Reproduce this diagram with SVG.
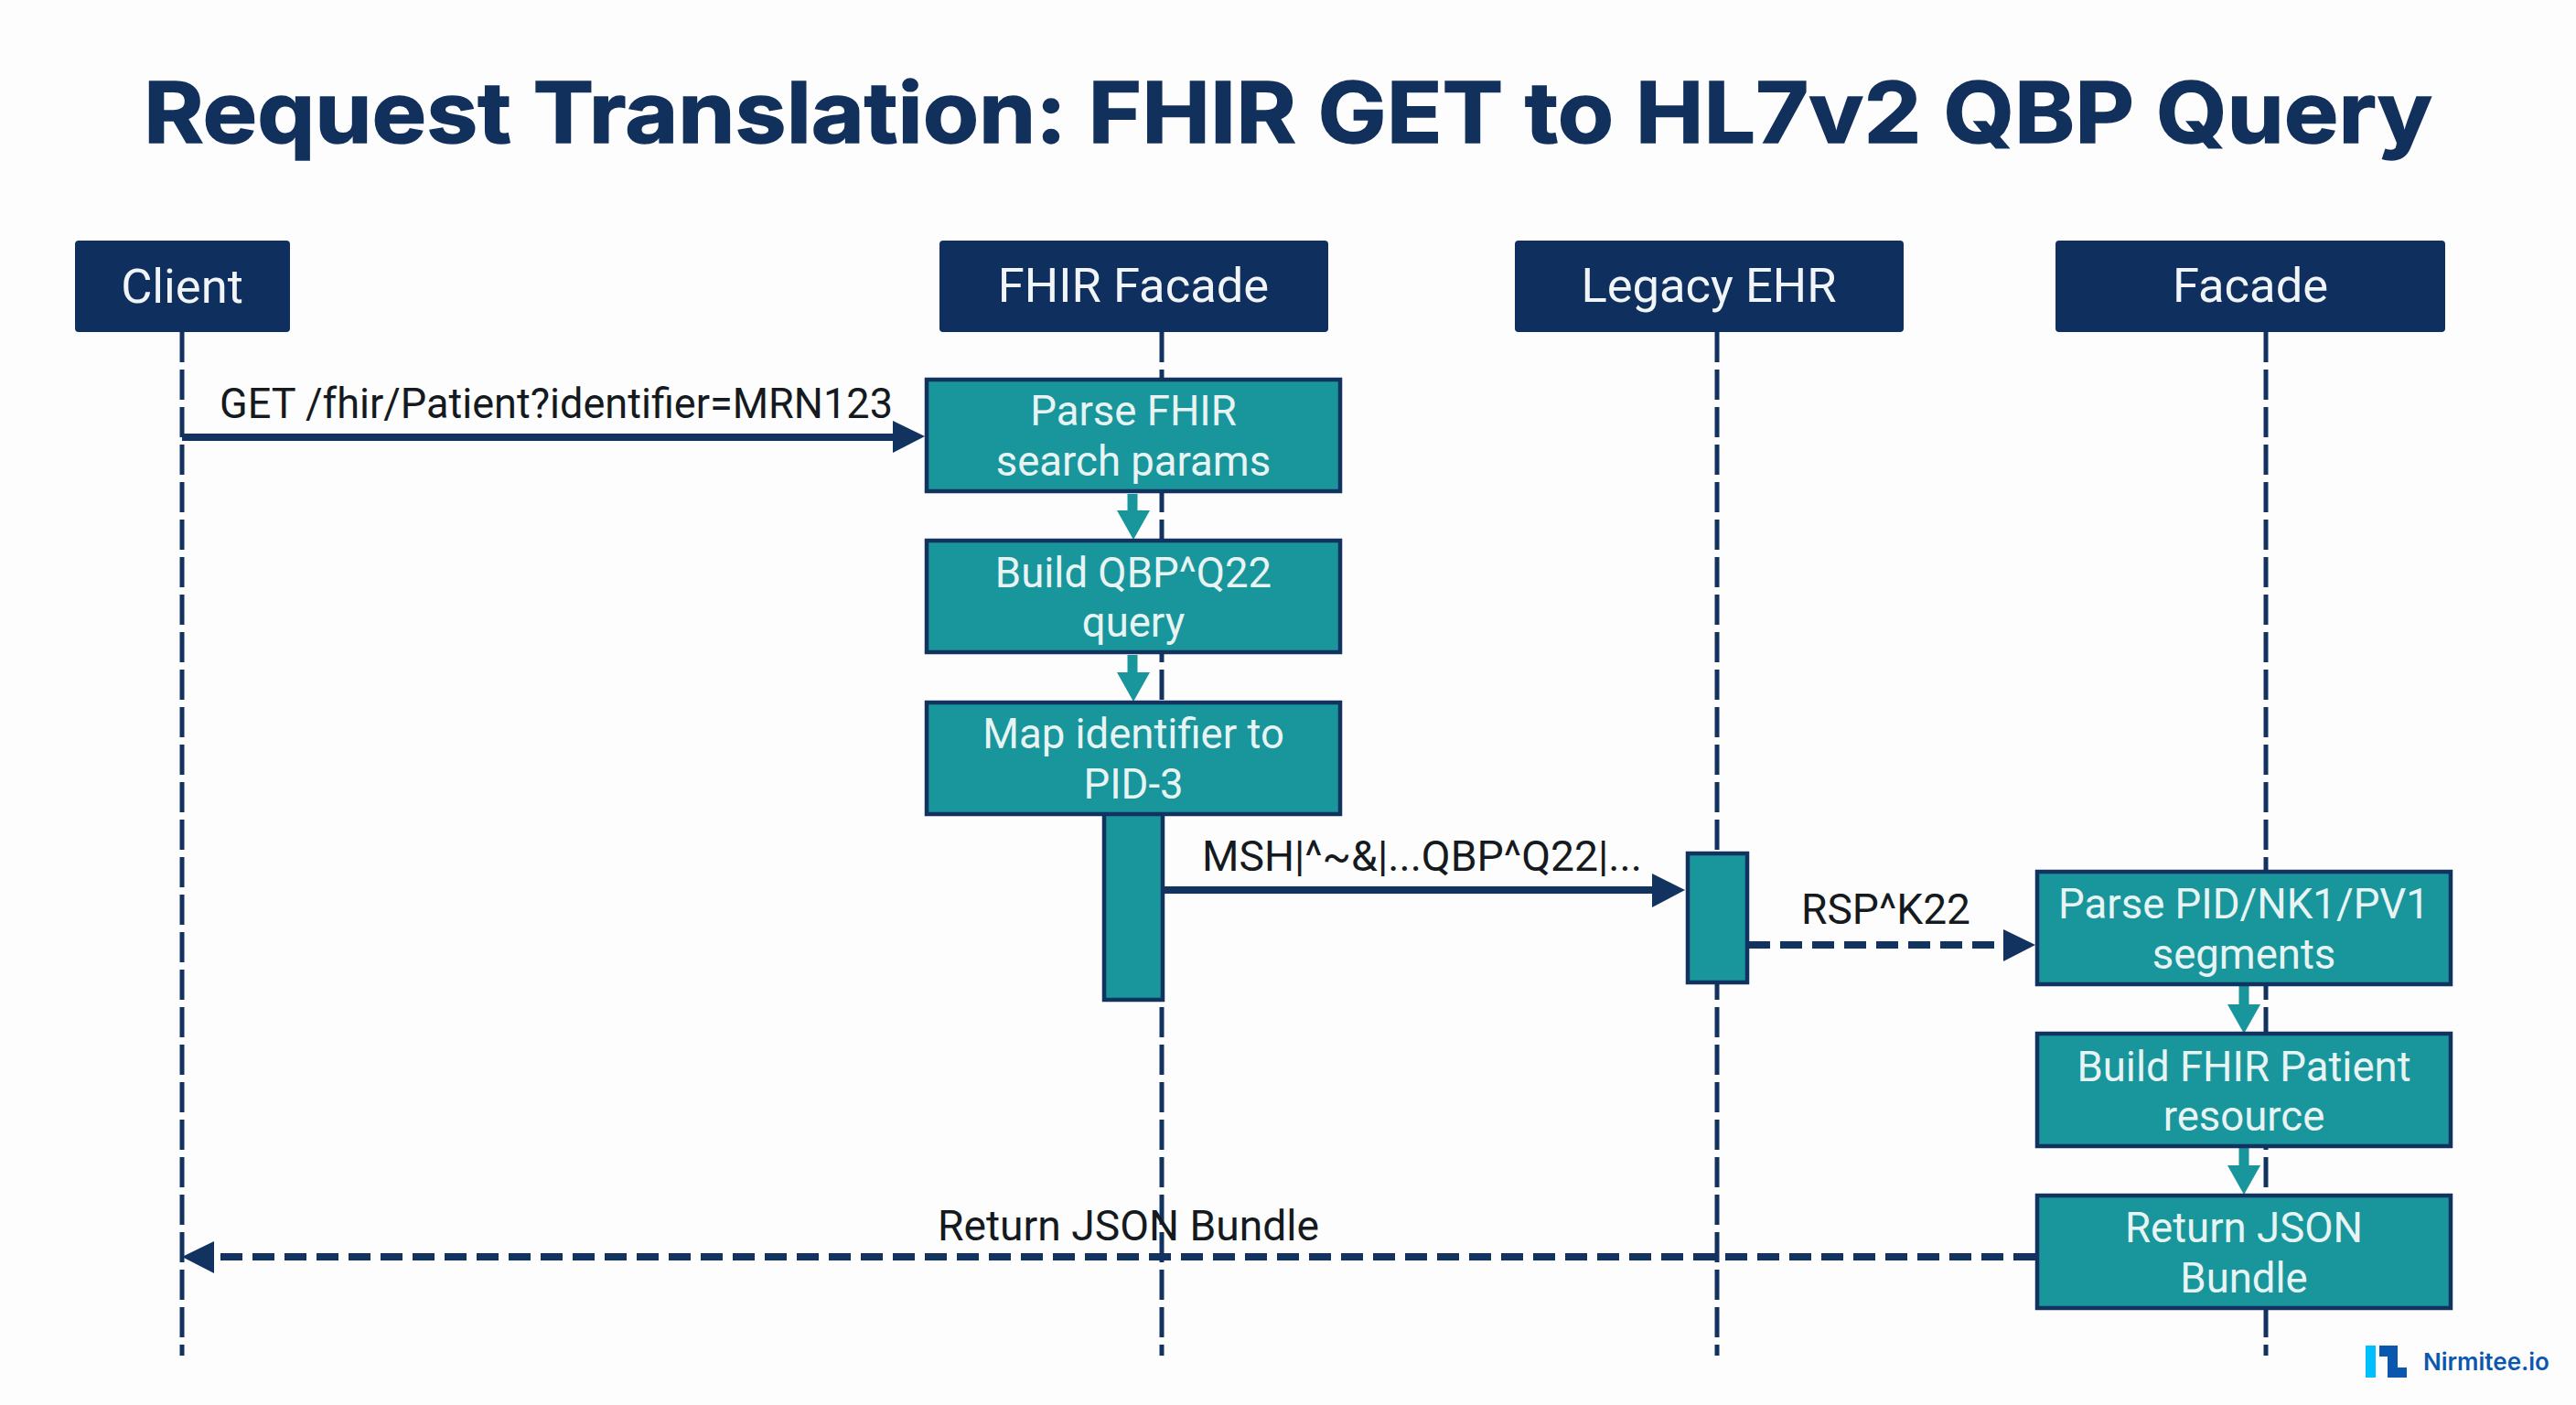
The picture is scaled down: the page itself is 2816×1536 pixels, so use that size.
<svg xmlns="http://www.w3.org/2000/svg" width="2816" height="1536" viewBox="0 0 2816 1536">
<style>
text{font-family:Roboto,"Liberation Sans",sans-serif}
.title{font-family:Inter,"Open Sans",sans-serif;font-weight:700;font-size:92px;fill:#12305c;stroke:#12305c;stroke-width:1.5}
.hd{fill:#0f2f5f;stroke:#0f2f5f;stroke-width:2}
.hdt{fill:#f2f5f8;font-size:52.5px;text-anchor:middle}
.box{fill:#18969c;stroke:#12325f;stroke-width:4.5}
.bt{fill:#e8f4f4;font-size:45.5px;text-anchor:middle}
.lbl{fill:#151a20;font-size:46px}
.life{stroke:#12325f;stroke-width:5;stroke-dasharray:33 8;fill:none}
.msg{stroke:#12325f;stroke-width:8;fill:none}
.dash{stroke-dasharray:24 11}
.tl{stroke:#18969c;stroke-width:11;fill:none}
.navyh{fill:#12325f}
.tealh{fill:#18969c}
</style>
<rect width="2816" height="1536" fill="#fdfdfd"/>
<text class="title" x="1408" y="156" text-anchor="middle" textLength="2502" lengthAdjust="spacingAndGlyphs">Request Translation: FHIR GET to HL7v2 QBP Query</text>
<g id="lifelines">
<path class="life" d="M199 363V1482"/>
<path class="life" d="M1270 363V1482"/>
<path class="life" d="M1877 363V1482"/>
<path class="life" d="M2477 363V1482"/>
</g>
<g id="client"><rect class="hd" x="83" y="264" width="233" height="98" rx="3"/><text class="hdt" x="199" y="331">Client</text></g>
<g id="fhir-facade"><rect class="hd" x="1028" y="264" width="423" height="98" rx="3"/><text class="hdt" x="1239" y="330">FHIR Facade</text></g>
<g id="legacy-ehr"><rect class="hd" x="1657" y="264" width="423" height="98" rx="3"/><text class="hdt" x="1868" y="330">Legacy EHR</text></g>
<g id="facade"><rect class="hd" x="2248" y="264" width="424" height="98" rx="3"/><text class="hdt" x="2460" y="330">Facade</text></g>
<g id="activation-fhir"><rect class="box" x="1207" y="885" width="64" height="208"/></g>
<g id="activation-ehr"><rect class="box" x="1845" y="933" width="65" height="141"/></g>
<g id="connectors">
<path class="msg" d="M199 478H978"/><path class="navyh" d="M976 460L1011 477L976 495Z"/>
<path class="msg" d="M1271 973H1814"/><path class="navyh" d="M1806 955L1842 973L1806 992Z"/>
<path class="msg dash" d="M1911 1033H2195"/><path class="navyh" d="M2190 1016L2225 1033L2190 1051Z"/>
<path class="msg dash" d="M2225 1374H228"/><path class="navyh" d="M234 1357L199 1374L234 1392Z"/>
<path class="tl" d="M1238 540V560"/><path class="tealh" d="M1221 558H1257L1239 590Z"/>
<path class="tl" d="M1238 716V737"/><path class="tealh" d="M1221 735H1257L1239 767Z"/>
<path class="tl" d="M2453 1078V1100"/><path class="tealh" d="M2435 1098H2471L2453 1130Z"/>
<path class="tl" d="M2453 1255V1276"/><path class="tealh" d="M2435 1274H2471L2453 1306Z"/>
</g>
<g id="parse-fhir"><rect class="box" x="1013" y="415" width="452" height="122"/><text class="bt" x="1239" y="465">Parse FHIR</text><text class="bt" x="1239" y="520">search params</text></g>
<g id="build-qbp"><rect class="box" x="1013" y="591" width="452" height="122"/><text class="bt" x="1239" y="642">Build QBP^Q22</text><text class="bt" x="1239" y="696">query</text></g>
<g id="map-identifier"><rect class="box" x="1013" y="768" width="452" height="122"/><text class="bt" x="1239" y="818">Map identifier to</text><text class="bt" x="1239" y="873">PID-3</text></g>
<g id="parse-pid"><rect class="box" x="2227" y="953" width="452" height="123"/><text class="bt" x="2453" y="1004">Parse PID/NK1/PV1</text><text class="bt" x="2453" y="1059">segments</text></g>
<g id="build-fhir"><rect class="box" x="2227" y="1130" width="452" height="123"/><text class="bt" x="2453" y="1182">Build FHIR Patient</text><text class="bt" x="2453" y="1236">resource</text></g>
<g id="return-json"><rect class="box" x="2227" y="1307" width="452" height="123"/><text class="bt" x="2453" y="1358">Return JSON</text><text class="bt" x="2453" y="1413">Bundle</text></g>
<g id="labels">
<text class="lbl" x="240" y="457" textLength="736" lengthAdjust="spacingAndGlyphs">GET /fhir/Patient?identifier=MRN123</text>
<text class="lbl" x="1314" y="952" textLength="481" lengthAdjust="spacingAndGlyphs">MSH|^~&amp;|...QBP^Q22|...</text>
<text class="lbl" x="1969" y="1010" textLength="185" lengthAdjust="spacingAndGlyphs">RSP^K22</text>
<text class="lbl" x="1025" y="1356" textLength="417" lengthAdjust="spacingAndGlyphs">Return JSON Bundle</text>
</g>
<g id="logo">
<rect x="2586" y="1471" width="11" height="35" fill="#00bfff"/>
<path d="M2601 1471H2621V1495H2631V1506H2610V1483H2601Z" fill="#0b57b0"/>
<text x="2649" y="1498" font-size="26" font-weight="600" fill="#0b57b0" style="font-family:Inter,sans-serif">Nirmitee.io</text>
</g>
</svg>
